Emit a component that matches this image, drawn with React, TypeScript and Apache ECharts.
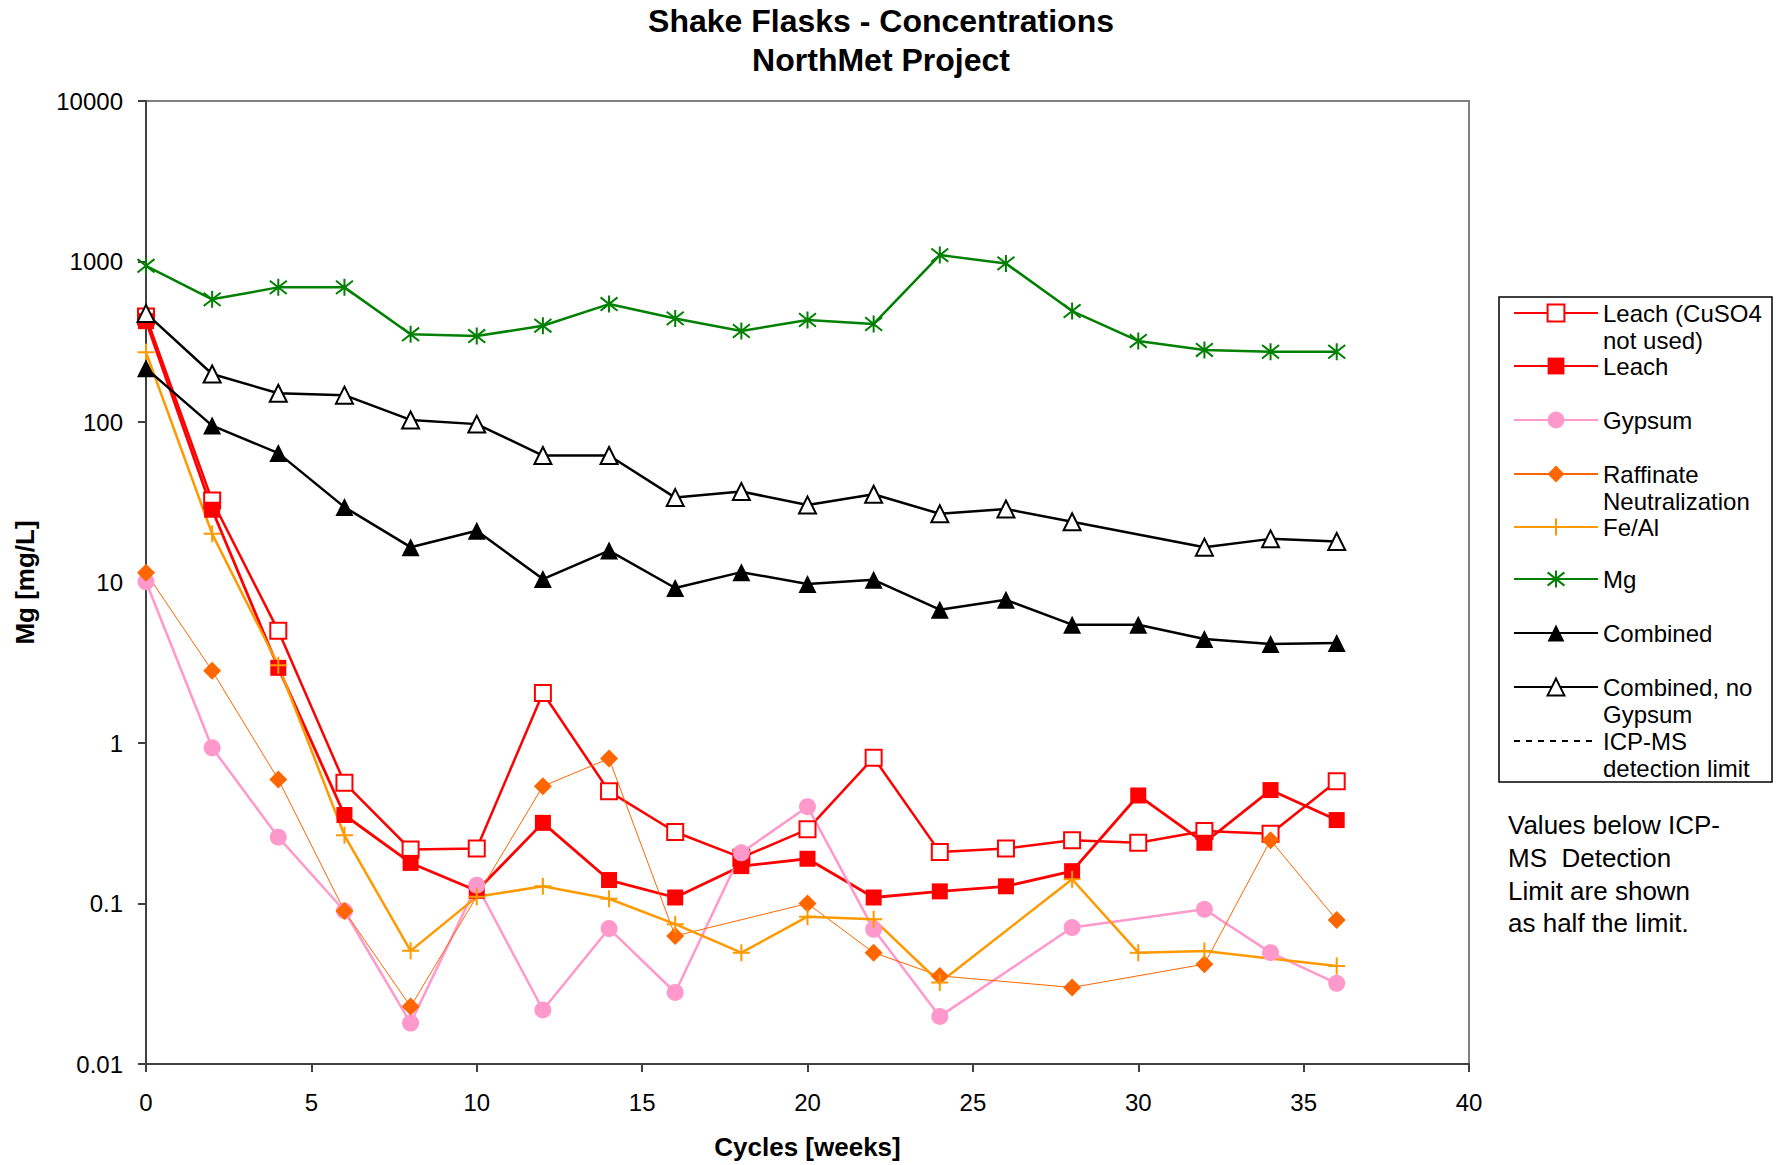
import React, { useEffect, useRef } from "react";
import * as echarts from "echarts";

const cycles = [0, 2, 4, 6, 8, 10, 12, 14, 16, 18, 20, 22, 24, 26, 28, 30, 32, 34, 36];

const leachNoCuSO4 = [455, 32.4, 5.0, 0.565, 0.217, 0.22, 2.05, 0.5, 0.279, 0.193, 0.29, 0.81, 0.209, 0.22, 0.248, 0.239, 0.283, 0.272, 0.578];
const leach = [425, 28.4, 2.94, 0.356, 0.179, 0.12, 0.318, 0.14, 0.109, 0.171, 0.19, 0.109, 0.119, 0.128, 0.159, 0.471, 0.239, 0.509, 0.331];
const gypsum = [10.1, 0.933, 0.259, 0.0898, 0.018, 0.13, 0.0217, 0.0698, 0.0279, 0.207, 0.401, 0.069, 0.0198, null, 0.0708, null, 0.092, 0.0494, 0.0318];
const raffinate = [11.5, 2.82, 0.593, 0.0898, 0.0228, null, 0.538, 0.8, 0.0628, null, 0.1, 0.0494, 0.0354, null, 0.03, null, 0.0419, 0.248, 0.0789];
const feAl = [272, 20.1, 3.05, 0.266, 0.0507, 0.11, 0.128, 0.107, 0.0743, 0.0494, 0.0828, 0.0797, 0.0322, null, 0.1416, 0.0494, 0.0506, null, 0.0408];
const mg = [940, 581, 690, 690, 352, 343, 398, 543, 442, 369, 432, 408, 1096, 973, 491, 320, 281, 274, 274];
const combined = [216, 95, 64, 29.5, 16.6, 21, 10.5, 15.8, 9.24, 11.6, 9.8, 10.4, 6.77, 7.8, 5.46, 5.46, 4.45, 4.14, 4.2];
const combinedNoGypsum = [475, 199, 151, 147, 103, 97, 61.8, 61.8, 33.8, 36.9, 30.4, 35.5, 26.8, 28.7, 23.9, null, 16.6, 18.7, 18.0];

const seriesNames = [
  "Leach (CuSO4 not used)",
  "Leach",
  "Gypsum",
  "Raffinate Neutralization",
  "Fe/Al",
  "Mg",
  "Combined",
  "Combined, no Gypsum",
  "ICP-MS detection limit",
];
const legendLabels = [
  ["Leach (CuSO4", "not used)"],
  ["Leach"],
  ["Gypsum"],
  ["Raffinate", "Neutralization"],
  ["Fe/Al"],
  ["Mg"],
  ["Combined"],
  ["Combined, no", "Gypsum"],
  ["ICP-MS", "detection limit"],
];
const legendCenters = [313, 366, 420, 474, 527, 579, 633, 687, 741];

const xTicks = { min: 0, max: 40, interval: 5 };
const yRange = { min: 0.01, max: 10000 };

const FONT = '"Liberation Sans", Arial, sans-serif';

const pair = (vals: (number | null)[]) => cycles.map((c, i) => [c, vals[i]]);

const PLUS = "path://M7,0 L7,14 M0,7 L14,7";
const STAR = "path://M7,0 L7,14 M1.5,1.5 L12.5,12.5 M1.5,12.5 L12.5,1.5";

export default function App() {
  const ref = useRef<HTMLDivElement>(null);
  useEffect(() => {
    if (!ref.current) return;
    const chart = echarts.init(ref.current, null, { renderer: "svg" });

    const mk = (
      name: string,
      vals: (number | null)[],
      color: string,
      width: number,
      symbol: string,
      size: number,
      itemStyle: any
    ) => ({
      name,
      type: "line",
      data: pair(vals),
      connectNulls: true,
      symbol,
      symbolSize: size,
      showSymbol: true,
      lineStyle: { color, width },
      itemStyle,
      emphasis: { disabled: true },
    });

    const series: any[] = [
      mk(seriesNames[0], leachNoCuSO4, "#FF0000", 2.5, "rect", 16, { color: "#FFFFFF", borderColor: "#FF0000", borderWidth: 2 }),
      mk(seriesNames[1], leach, "#FF0000", 2.8, "rect", 16, { color: "#FF0000", borderColor: "#FF0000", borderWidth: 0 }),
      mk(seriesNames[2], gypsum, "#FF99CC", 2.5, "circle", 17, { color: "#FF99CC", borderWidth: 0 }),
      mk(seriesNames[3], raffinate, "#FF6600", 1, "diamond", 18, { color: "#FF6600", borderWidth: 0 }),
      mk(seriesNames[4], feAl, "#FF9900", 2.5, PLUS, 17, { color: "#FF9900", borderColor: "#FF9900", borderWidth: 2 }),
      mk(seriesNames[5], mg, "#008000", 2.5, STAR, 17, { color: "#008000", borderColor: "#008000", borderWidth: 2 }),
      mk(seriesNames[6], combined, "#000000", 2.5, "triangle", 18, { color: "#000000", borderWidth: 0 }),
      mk(seriesNames[7], combinedNoGypsum, "#000000", 2.5, "triangle", 17, { color: "#FFFFFF", borderColor: "#000000", borderWidth: 2 }),
      {
        name: seriesNames[8],
        type: "line",
        data: [],
        symbol: "none",
        lineStyle: { color: "#000000", width: 2, type: [6, 6] },
        itemStyle: { color: "#000000" },
      },
    ];

    const legends = seriesNames.map((name, i) => {
      const lines = legendLabels[i];
      const text = lines.length > 1 ? "\u00a0\n" + lines.join("\n") : lines[0];
      const h = lines.length > 1 ? 81 : 27;
      const isLimit = i === seriesNames.length - 1;
      return {
        data: [isLimit ? { name, itemStyle: { opacity: 0 } } : name],
        orient: "vertical",
        left: 1513,
        top: legendCenters[i] - h / 2,
        padding: 0,
        itemGap: 0,
        itemWidth: 84,
        itemHeight: 21,
        selectedMode: false,
        formatter: () => text,
        textStyle: { fontSize: 24, lineHeight: 27, fontFamily: FONT, color: "#000000" },
      };
    });

    chart.setOption({
      animation: false,
      backgroundColor: "#FFFFFF",
      title: {
        text: "Shake Flasks - Concentrations\nNorthMet Project",
        left: 881,
        textAlign: "center",
        top: 1,
        padding: 0,
        textStyle: { fontSize: 32, fontWeight: "bold", fontFamily: FONT, lineHeight: 39, color: "#000000" },
      },
      grid: {
        left: 146,
        right: 309,
        top: 101,
        bottom: 100,
        show: true,
        borderColor: "#808080",
        borderWidth: 2,
        backgroundColor: "#FFFFFF",
      },
      xAxis: {
        type: "value",
        min: xTicks.min,
        max: xTicks.max,
        interval: xTicks.interval,
        name: "Cycles [weeks]",
        nameLocation: "middle",
        nameGap: 70,
        nameTextStyle: { fontSize: 26, fontWeight: "bold", fontFamily: FONT, color: "#000000" },
        axisLine: { show: true, lineStyle: { color: "#404040", width: 2 } },
        axisTick: { show: true, inside: false, length: 8, lineStyle: { color: "#404040", width: 2 } },
        axisLabel: { fontSize: 24, fontFamily: FONT, color: "#000000", margin: 26 },
        splitLine: { show: false },
      },
      yAxis: {
        type: "log",
        logBase: 10,
        min: yRange.min,
        max: yRange.max,
        interval: 1,
        name: "Mg [mg/L]",
        nameLocation: "middle",
        nameGap: 108,
        nameTextStyle: { fontSize: 26, fontWeight: "bold", fontFamily: FONT, color: "#000000" },
        axisLine: { show: true, lineStyle: { color: "#404040", width: 2 } },
        axisTick: { show: true, inside: false, length: 8, lineStyle: { color: "#404040", width: 2 } },
        axisLabel: {
          fontSize: 24,
          fontFamily: FONT,
          color: "#000000",
          margin: 23,
          formatter: (v: number) => {
            const e = Math.round(Math.log10(v));
            return e < 0 ? Math.pow(10, e).toFixed(-e) : String(Math.pow(10, e));
          },
        },
        splitLine: { show: false },
        minorTick: { show: false },
      },
      legend: legends,
      graphic: [
        {
          type: "rect",
          shape: { x: 1499, y: 297, width: 273, height: 485 },
          style: { fill: "none", stroke: "#000000", lineWidth: 1.5 },
          silent: true,
        },
        {
          type: "text",
          x: 1508,
          y: 809,
          style: {
            text: "Values below ICP-\nMS  Detection\nLimit are shown\nas half the limit.",
            fontSize: 26,
            fontFamily: FONT,
            lineHeight: 32.7,
            fill: "#000000",
          },
          silent: true,
        },
      ],
      series,
    });

    return () => chart.dispose();
  }, []);

  return (
    <div
      ref={ref}
      style={{ position: "fixed", left: 0, top: 0, width: 1778, height: 1165, background: "#FFFFFF" }}
    />
  );
}
